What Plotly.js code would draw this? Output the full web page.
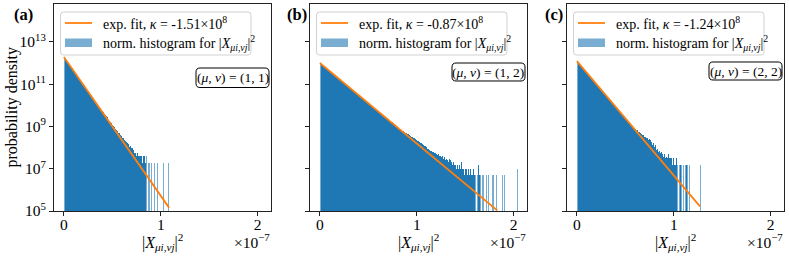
<!DOCTYPE html>
<html><head><meta charset="utf-8">
<script src="https://cdn.plot.ly/plotly-3.0.1.min.js"></script>
<style>html,body{margin:0;padding:0;background:#fff;} #chart{width:789px;height:258px;}</style>
</head><body><div id="chart"></div>
<script>
// ---- data (x in units of 1e-7, histogram values given as log10 of density) ----
const binWidth = 0.01;
const xScaleLabel = '×10<sup>−7</sup>';

const logDensityA = [
12.25,12.18,12.12,12.05,11.99,11.92,11.85,11.79,11.72,11.66,
11.59,11.53,11.46,11.39,11.33,11.26,11.20,11.13,11.07,11.00,
10.94,10.87,10.81,10.74,10.68,10.61,10.55,10.48,10.42,10.35,
10.29,10.23,10.16,10.10,10.04,9.97,9.91,9.86,9.79,9.74,
9.67,9.61,9.56,9.48,9.44,9.37,9.32,9.25,9.19,9.14,
9.06,9.02,8.95,8.90,8.83,8.79,8.71,8.68,8.60,8.56,
8.47,8.45,8.36,8.33,8.26,8.20,8.16,8.05,8.07,7.96,
7.98,7.88,7.76,7.76,7.58,7.76,7.58,7.76,7.58,7.58,
7.58,7.28,7.58,7.58,7.28,7.58,null,7.28,7.28,null,
7.28,null,null,7.28,null,null,7.28,null,null,null,
null,null,7.28,null,null,null,null,7.28,null];

const logDensityB = [
11.98,11.94,11.90,11.87,11.83,11.79,11.75,11.72,11.68,11.64,
11.60,11.56,11.53,11.49,11.45,11.41,11.38,11.34,11.30,11.26,
11.22,11.19,11.15,11.11,11.07,11.04,11.00,10.96,10.92,10.88,
10.85,10.81,10.77,10.73,10.70,10.66,10.62,10.58,10.54,10.51,
10.47,10.43,10.39,10.36,10.32,10.28,10.24,10.20,10.17,10.13,
10.09,10.05,10.02,9.98,9.94,9.90,9.86,9.83,9.79,9.75,
9.71,9.68,9.64,9.60,9.56,9.53,9.49,9.45,9.41,9.38,
9.34,9.30,9.26,9.23,9.19,9.16,9.12,9.08,9.05,9.01,
8.98,8.94,8.90,8.87,8.84,8.80,8.78,8.73,8.71,8.68,
8.64,8.62,8.58,8.56,8.51,8.50,8.45,8.43,8.39,8.37,
8.32,8.31,8.27,8.22,8.22,8.15,8.14,8.09,8.07,8.02,
8.01,7.95,7.93,7.89,7.86,7.84,7.78,7.80,7.72,7.73,
7.70,7.66,7.70,7.60,7.62,7.55,7.60,7.48,7.55,7.40,
7.48,7.40,7.30,7.48,7.40,7.30,7.18,7.30,7.18,7.18,
7.00,7.18,7.00,7.00,7.18,7.00,7.30,7.00,7.00,6.70,
7.00,7.00,6.70,7.00,6.70,7.00,6.70,6.70,7.00,6.70,
6.70,null,6.70,7.18,6.70,6.70,null,6.70,6.70,null,
null,6.70,null,6.70,null,null,null,null,6.70,6.70,
null,null,6.70,null,null,null,null,null,6.70,null,
6.70,null,null,null,null,null,null,null,null,null,
null,null,null,7.00];

const logDensityC = [
12.06,12.01,11.96,11.90,11.85,11.79,11.74,11.69,11.63,11.58,
11.52,11.47,11.42,11.36,11.31,11.25,11.20,11.15,11.09,11.04,
10.99,10.93,10.88,10.82,10.77,10.72,10.66,10.61,10.55,10.50,
10.45,10.39,10.34,10.28,10.23,10.18,10.12,10.07,10.02,9.96,
9.91,9.85,9.80,9.75,9.69,9.64,9.58,9.53,9.48,9.42,
9.38,9.32,9.28,9.22,9.18,9.12,9.08,9.02,8.99,8.93,
8.90,8.84,8.82,8.75,8.73,8.67,8.66,8.58,8.60,8.51,
8.52,8.44,8.46,8.37,8.39,8.36,8.25,8.28,8.14,8.20,
8.05,8.12,7.90,7.95,7.80,7.85,7.73,7.80,7.68,7.55,
7.68,7.51,7.55,7.51,7.68,7.51,7.49,7.51,7.19,7.49,
7.19,7.19,7.49,7.19,null,7.19,7.19,7.19,null,7.19,
7.19,null,7.19,7.19,7.19,null,7.19,null,null,null,
null,null,null,null,null,null,null,7.19];

const fitXA = [0, 1.085], fitLogA = [12.28, 5.16];
const fitXB = [0, 1.83],  fitLogB = [12.00, 5.03];
const fitXC = [0, 1.27],  fitLogC = [12.09, 5.22];

const kappaLabels = ['-1.51', '-0.87', '-1.24'];
const pairLabels = ['(1, 1)', '(1, 2)', '(2, 2)'];
const panelLetters = ['(a)', '(b)', '(c)'];
const yTickExponents = [5, 7, 9, 11, 13];
const xTickVals = [0, 1, 2];
const xTickText = ['0', '1', '2'];

// ---- layout geometry (pixels) ----
const W = 789, H = 258;
const panelLeft = [54, 310, 567], panelWidth = 217;
const plotTop = 4, plotBottom = 211;
const pairBoxY = [[68, 87.5], [63, 81], [62, 80]];
const letterX = [23, 297, 554];
const FONT = 'Liberation Serif, Times New Roman, serif';
const BLUE = '31,119,180';
const TICK_SIZE = 15.5, LEG_SIZE = 14, TITLE_SIZE = 16;

const px = v => v / W, py = v => 1 - v / H;
function roundRect(x0, y0, x1, y1, r) {
  const X = v => px(v).toFixed(5), Y = v => py(v).toFixed(5);
  return `M${X(x0+r)},${Y(y0)} L${X(x1-r)},${Y(y0)} Q${X(x1)},${Y(y0)} ${X(x1)},${Y(y0+r)} ` +
         `L${X(x1)},${Y(y1-r)} Q${X(x1)},${Y(y1)} ${X(x1-r)},${Y(y1)} L${X(x0+r)},${Y(y1)} ` +
         `Q${X(x0)},${Y(y1)} ${X(x0)},${Y(y1-r)} L${X(x0)},${Y(y0+r)} Q${X(x0)},${Y(y0)} ${X(x0+r)},${Y(y0)} Z`;
}

const hists = [logDensityA, logDensityB, logDensityC];
const fits = [[fitXA, fitLogA], [fitXB, fitLogB], [fitXC, fitLogC]];
const traces = [], shapes = [], annotations = [];
const layout = {
  width: W, height: H, margin: {l: 0, r: 0, t: 0, b: 0},
  paper_bgcolor: '#fff', plot_bgcolor: '#fff', showlegend: false,
  bargap: 0, hovermode: false, font: {family: FONT, size: TICK_SIZE, color: '#000'}
};

hists.forEach((h, p) => {
  const s = p === 0 ? '' : String(p + 1);
  const xs = h.map((_, i) => binWidth * (i + 0.5));
  const ys = h.map(v => v == null ? null : Math.pow(10, v));
  const colors = h.map((v, i) => {
    const dense = h[i - 1] != null && h[i + 1] != null;
    return dense ? `rgba(${BLUE},1)` : `rgba(${BLUE},0.6)`;
  });
  traces.push({type: 'bar', x: xs, y: ys, width: binWidth, xaxis: 'x' + s, yaxis: 'y' + s,
    marker: {color: colors, line: {width: 0}}, hoverinfo: 'skip'});
  traces.push({type: 'scatter', mode: 'lines', x: fits[p][0], y: fits[p][1].map(v => Math.pow(10, v)),
    xaxis: 'x' + s, yaxis: 'y' + s, line: {color: '#ff7f0e', width: 1.8}, hoverinfo: 'skip'});

  const L = panelLeft[p];
  layout['xaxis' + s] = {
    domain: [px(L), px(L + panelWidth)], anchor: 'y' + s, range: [-0.102, 2.137],
    showline: true, mirror: true, linecolor: '#222', linewidth: 1,
    ticks: 'outside', ticklen: 4, tickwidth: 1, tickcolor: '#222', ticklabelstandoff: -5,
    tickvals: xTickVals, ticktext: xTickText, showgrid: false, zeroline: false,
    tickfont: {family: FONT, size: TICK_SIZE, color: '#000'}
  };
  layout['yaxis' + s] = {
    domain: [1 - plotBottom / H, 1 - plotTop / H], anchor: 'x' + s, type: 'log', range: [5, 14.79],
    showline: true, mirror: true, linecolor: '#222', linewidth: 1,
    ticks: 'outside', ticklen: 4, tickwidth: 1, tickcolor: '#222',
    tickvals: yTickExponents.map(e => Math.pow(10, e)),
    ticktext: yTickExponents.map(e => '10<sup>' + e + '</sup>'),
    showticklabels: p === 0, showgrid: false, zeroline: false,
    tickfont: {family: FONT, size: TICK_SIZE, color: '#000'}
  };

  // legend box
  shapes.push({type: 'path', xref: 'paper', yref: 'paper', path: roundRect(L + 6.5, 12, L + 197, 55, 3),
    line: {color: 'rgba(204,204,204,0.9)', width: 1}, fillcolor: 'rgba(255,255,255,0.8)'});
  shapes.push({type: 'line', xref: 'paper', yref: 'paper', x0: px(L + 11), x1: px(L + 38), y0: py(23), y1: py(23),
    line: {color: '#ff7f0e', width: 1.8}});
  shapes.push({type: 'rect', xref: 'paper', yref: 'paper', x0: px(L + 11), x1: px(L + 38), y0: py(38.5), y1: py(47),
    line: {width: 0}, fillcolor: `rgba(${BLUE},0.6)`});
  annotations.push({xref: 'paper', yref: 'paper', x: px(L + 47), y: py(23), xanchor: 'left', yanchor: 'middle',
    text: 'exp. fit, <i>κ</i> = ' + kappaLabels[p] + '×10<sup>8</sup>', showarrow: false, font: {family: FONT, size: LEG_SIZE}});
  annotations.push({xref: 'paper', yref: 'paper', x: px(L + 47), y: py(43), xanchor: 'left', yanchor: 'middle',
    text: 'norm. histogram for |<i>X</i><sub><i>μi</i>,<i>νj</i></sub>|<sup>2</sup>', showarrow: false, font: {family: FONT, size: LEG_SIZE}});
  // (mu, nu) box
  const [by0, by1] = pairBoxY[p];
  shapes.push({type: 'path', xref: 'paper', yref: 'paper', path: roundRect(L + 142, by0, L + 215, by1, 4),
    line: {color: '#000', width: 1}, fillcolor: '#fff'});
  annotations.push({xref: 'paper', yref: 'paper', x: px(L + 178.5), y: py((by0 + by1) / 2), xanchor: 'center', yanchor: 'middle',
    text: '(<i>μ</i>, <i>ν</i>) = ' + pairLabels[p], showarrow: false, font: {family: FONT, size: 13.5}});
  // panel letter
  annotations.push({xref: 'paper', yref: 'paper', x: px(letterX[p]), y: py(15), xanchor: 'center', yanchor: 'middle',
    text: '<b>' + panelLetters[p] + '</b>', showarrow: false, font: {family: FONT, size: 16.5}});
  // x title and offset text
  annotations.push({xref: 'paper', yref: 'paper', x: px(L + panelWidth / 2), y: py(242), xanchor: 'center', yanchor: 'middle',
    text: '|<i>X</i><sub><i>μi</i>,<i>νj</i></sub>|<sup>2</sup>', showarrow: false, font: {family: FONT, size: TITLE_SIZE}});
  annotations.push({xref: 'paper', yref: 'paper', x: px(L + panelWidth + 1), y: py(241), xanchor: 'right', yanchor: 'middle',
    text: xScaleLabel, showarrow: false, font: {family: FONT, size: TICK_SIZE}});
});

annotations.push({xref: 'paper', yref: 'paper', x: px(11), y: py(107.5), xanchor: 'center', yanchor: 'middle',
  text: 'probability density', textangle: -90, showarrow: false, font: {family: FONT, size: TITLE_SIZE}});

layout.shapes = shapes;
layout.annotations = annotations;
Plotly.newPlot('chart', traces, layout, {staticPlot: true, displayModeBar: false});
</script></body></html>
